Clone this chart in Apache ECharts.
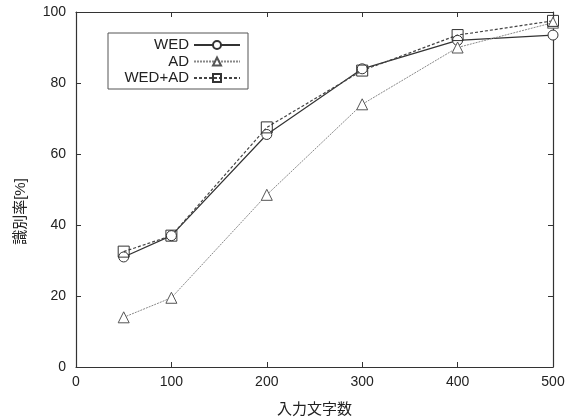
<!DOCTYPE html>
<html><head><meta charset="utf-8">
<script src="https://cdn.jsdelivr.net/npm/echarts@6/dist/echarts.min.js"></script>
<style>html,body{margin:0;padding:0;background:#fff}#c{width:576px;height:419px}</style>
</head><body><div id="c"></div>
<script>
const xValues = [50, 100, 200, 300, 400, 500];
const wed = [31, 37, 65.5, 84, 92, 93.5];
const ad = [14, 19.5, 48.5, 74, 90, 97];
const wedAd = [32.5, 37, 67.5, 83.5, 93.5, 97.5];
const xTicks = [0, 100, 200, 300, 400, 500];
const yTicks = [0, 20, 40, 60, 80, 100];

const font = '"Liberation Sans", "Noto Sans CJK JP", sans-serif';
const chart = echarts.init(document.getElementById('c'));
const pair = (ys) => xValues.map((x, i) => [x, ys[i]]);
const axisCommon = {
  axisLine: {show: true, onZero: false, lineStyle: {color: '#333', width: 1.2}},
  axisTick: {show: true, inside: true, length: 5, lineStyle: {color: '#333'}},
  splitLine: {show: false}
};
chart.setOption({
  animation: false,
  textStyle: {fontFamily: font},
  grid: {left: 76, right: 23, top: 12, bottom: 52, outerBoundsMode: 'none'},
  xAxis: [
    Object.assign({type: 'value', min: 0, max: 500, interval: 100, position: 'bottom',
      name: '入力文字数', nameLocation: 'middle', nameGap: 35,
      nameTextStyle: {fontSize: 15, color: '#222', fontFamily: font},
      axisLabel: {fontSize: 14, color: '#222', margin: 8}}, axisCommon),
    Object.assign({type: 'value', min: 0, max: 500, interval: 100, position: 'top',
      axisLabel: {show: false}}, axisCommon)
  ],
  yAxis: [
    Object.assign({type: 'value', min: 0, max: 100, interval: 20, position: 'left',
      name: '識別率[%]', nameLocation: 'middle', nameGap: 48, nameRotate: 90, nameMoveOverlap: false,
      nameTextStyle: {fontSize: 15, color: '#222', fontFamily: font, padding: [0, 44, 0, 0]},
      axisLabel: {fontSize: 14, color: '#222', margin: 10}}, axisCommon),
    Object.assign({type: 'value', min: 0, max: 100, interval: 20, position: 'right',
      axisLabel: {show: false}}, axisCommon)
  ],
  legend: {
    orient: 'vertical', left: 108, top: 33, align: 'right',
    itemWidth: 46, itemHeight: 10, itemGap: 0.5,
    padding: [4, 7, 3, 3],
    borderColor: '#555', borderWidth: 1, borderRadius: 0,
    textStyle: {fontSize: 15, lineHeight: 16, color: '#222', width: 78, align: 'right', fontFamily: font},
    data: ['WED', 'AD', 'WED+AD']
  },
  series: [
    {name: 'WED', type: 'line', data: pair(wed), symbol: 'circle', symbolSize: 10,
      itemStyle: {color: '#fff', borderColor: '#333', borderWidth: 1},
      lineStyle: {color: '#333', width: 1.2, type: 'solid'}},
    {name: 'AD', type: 'line', data: pair(ad), symbol: 'triangle', symbolSize: 11,
      itemStyle: {color: '#fff', borderColor: '#555', borderWidth: 1},
      lineStyle: {color: '#888', width: 1, type: [2, 1]}},
    {name: 'WED+AD', type: 'line', data: pair(wedAd), symbol: 'rect', symbolSize: 11,
      itemStyle: {color: 'rgba(255,255,255,0)', borderColor: '#333', borderWidth: 1},
      lineStyle: {color: '#444', width: 1.2, type: [3, 2]}}
  ]
});
</script></body></html>
